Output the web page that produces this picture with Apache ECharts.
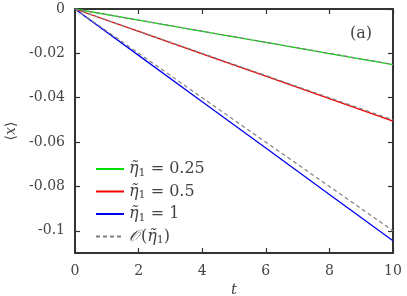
<!DOCTYPE html>
<html><head><meta charset="utf-8">
<script src="https://cdn.jsdelivr.net/npm/echarts@6/dist/echarts.min.js"></script>
<style>html,body{margin:0;padding:0;background:#fff}#c{width:407px;height:296px}</style>
</head><body><div id="c"></div>
<script>
const t = [0, 2, 4, 6, 8, 10];
const green = [0, -0.00502, -0.01004, -0.01506, -0.02008, -0.0251];
const red = [0, -0.0101, -0.0202, -0.0303, -0.0404, -0.0505];
const blue = [0, -0.0209, -0.0418, -0.0627, -0.0836, -0.1045];
const oGreen = [0, -0.005, -0.01, -0.015, -0.02, -0.025];
const oRed = [0, -0.01, -0.02, -0.03, -0.04, -0.05];
const oBlue = [0, -0.02, -0.04, -0.06, -0.08, -0.1];
const yTicks = [0, -0.02, -0.04, -0.06, -0.08, -0.1];
const yTickLabels = ['0', '-0.02', '-0.04', '-0.06', '-0.08', '-0.1'];
const legendText = {
  g: '{e|η̃}{s|1}{n| = 0.25}',
  r: '{e|η̃}{s|1}{n| = 0.5}',
  b: '{e|η̃}{s|1}{n| = 1}',
  o: '{c|𝒪}{n|(}{e|η̃}{s|1}{n|)}'
};
const pair = a => t.map((x, i) => [x, a[i]]);
const SERIF = '"DejaVu Serif", "Liberation Serif", serif';
const axisCol = '#333333';
const labCol = '#444444';

const chart = echarts.init(document.getElementById('c'), null, {renderer: 'canvas'});
const lineS = (name, data, color, dashed, z) => ({
  type: 'line', name, data: pair(data), symbol: 'none', smooth: false,
  lineStyle: {color, width: dashed ? 1.2 : 1.3, type: dashed ? [4, 3] : 'solid'},
  itemStyle: {color}, z, xAxisIndex: 0, yAxisIndex: 0, animation: false
});
const lineSt = () => ({show: true, onZero: false, lineStyle: {color: axisCol, width: 2}});
const tickX = () => ({show: true, inside: true, length: 5, lineStyle: {color: axisCol, width: 1.2}});
const tickY = () => ({show: true, inside: true, length: 5, customValues: yTicks, lineStyle: {color: axisCol, width: 1.2}});
chart.setOption({
  animation: false,
  grid: {left: 75, top: 9, right: 14, bottom: 43, outerBoundsMode: 'none', containLabel: false,
    show: true, borderColor: axisCol, borderWidth: 1.5, backgroundColor: 'rgba(0,0,0,0)'},
  xAxis: [{
    type: 'value', min: 0, max: 10, interval: 2,
    axisLine: lineSt(), axisTick: tickX(),
    axisLabel: {margin: 11, color: labCol, fontFamily: SERIF, fontSize: 14},
    splitLine: {show: false},
    name: 't', nameLocation: 'middle', nameGap: 28,
    nameTextStyle: {fontFamily: SERIF, fontStyle: 'italic', fontSize: 15, color: labCol}
  }, {
    type: 'value', position: 'top', min: 0, max: 10, interval: 2,
    axisLine: lineSt(), axisTick: tickX(),
    axisLabel: {show: false}, splitLine: {show: false}
  }],
  yAxis: [{
    type: 'value', min: -0.11, max: 0,
    axisLine: lineSt(), axisTick: tickY(),
    axisLabel: {margin: 10, color: labCol, fontFamily: SERIF, fontSize: 14,
      customValues: yTicks,
      formatter: v => { const i = yTicks.findIndex(y => Math.abs(y - v) < 1e-9); return i >= 0 ? yTickLabels[i] : ''; }},
    splitLine: {show: false},
    name: '{a|⟨}{x|x}{a|⟩}', nameLocation: 'middle', nameGap: 57, nameRotate: 90,
    nameTextStyle: {color: labCol, rich: {a: {fontFamily: SERIF, fontSize: 14, color: labCol}, x: {fontFamily: SERIF, fontStyle: 'italic', fontSize: 14, color: labCol}}}
  }, {
    type: 'value', position: 'right', min: -0.11, max: 0,
    axisLine: lineSt(), axisTick: tickY(),
    axisLabel: {show: false}, splitLine: {show: false}
  }],
  legend: {
    orient: 'vertical', left: 90, top: 156, itemWidth: 28, itemHeight: 10, itemGap: 5,
    data: ['g', 'r', 'b', 'o'],
    itemStyle: {opacity: 0},
    formatter: n => legendText[n],
    textStyle: {color: labCol, fontFamily: SERIF, fontSize: 16, padding: [0, 0, 0, 0],
      rich: {
        e: {fontFamily: SERIF, fontStyle: 'italic', fontSize: 16, color: labCol},
        s: {fontFamily: SERIF, fontSize: 11, color: labCol, verticalAlign: 'bottom', padding: [8, 0, 0, 0]},
        n: {fontFamily: SERIF, fontSize: 16, color: labCol},
        c: {fontFamily: SERIF, fontStyle: 'italic', fontSize: 16, color: labCol, padding: [0, 2, 0, 0]}
      }}
  },
  graphic: [{type: 'text', left: 350, top: 26, style: {text: '(a)', font: '16px ' + SERIF, fill: labCol}}],
  series: [
    lineS('g', green, '#00e000', false, 2),
    lineS('r', red, '#f00000', false, 2),
    lineS('b', blue, '#0000f0', false, 2),
    lineS('o', oGreen, '#808080', true, 3),
    lineS('o', oRed, '#808080', true, 3),
    lineS('o', oBlue, '#808080', true, 3)
  ]
});
</script></body></html>
